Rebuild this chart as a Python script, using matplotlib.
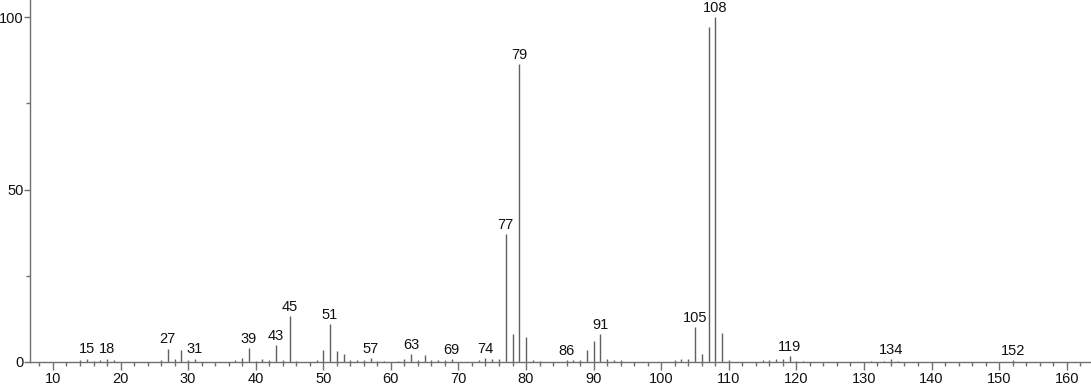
import numpy as np
import matplotlib.pyplot as plt
from matplotlib.ticker import MultipleLocator

plt.rcParams['font.family'] = ['Liberation Sans', 'DejaVu Sans']

# m/z values and relative intensities (%)
mz = [14, 15, 16, 17, 18, 19, 26, 27, 28, 29, 30, 31, 37, 38, 39, 40, 41, 42, 43, 44, 45, 46,
      49, 50, 51, 52, 53, 54, 55, 56, 57, 58, 59, 61, 62, 63, 64, 65, 66, 67, 68, 69,
      73, 74, 75, 76, 77, 78, 79, 80, 81, 82, 86, 87, 88, 89, 90, 91, 92, 93, 94,
      102, 103, 104, 105, 106, 107, 108, 109, 110, 115, 116, 117, 118, 119, 120, 121,
      131, 133, 134, 135, 152]
intensity = [0.6, 1.0, 0.4, 0.6, 1.0, 0.5, 0.6, 3.9, 1.0, 3.5, 0.5, 1.0, 0.5, 1.2, 4.1, 0.3, 1.0, 0.5, 4.9, 0.5, 13.2, 0.3,
             0.5, 3.6, 11.0, 3.1, 2.4, 0.5, 0.7, 0.5, 1.1, 0.3, 0.3, 0.3, 0.9, 2.3, 0.7, 2.1, 0.5, 0.5, 0.6, 0.8,
             0.5, 1.1, 0.8, 0.9, 37.1, 8.1, 86.4, 7.3, 0.5, 0.3, 0.7, 0.5, 0.6, 3.5, 6.2, 8.0, 1.0, 0.5, 0.5,
             0.7, 0.8, 0.9, 10.1, 2.4, 97.1, 100.0, 8.3, 0.5, 0.5, 0.5, 0.8, 0.8, 1.8, 0.4, 0.3,
             0.4, 0.4, 0.8, 0.4, 0.5]
labeled = [15, 18, 27, 31, 39, 43, 45, 51, 57, 63, 69, 74, 77, 79, 86, 91, 105, 108, 119, 134, 152]

fig = plt.figure(figsize=(10.91, 3.87), dpi=100)
ax = fig.add_axes([0.0275, 0.0646, 0.9725, 0.9354])

ax.vlines(mz, 0, intensity, colors='#606060', linewidth=1.0)
for m, h in zip(mz, intensity):
    if m in labeled:
        ax.annotate(str(m), (m, h), xytext=(0, 1.5), textcoords='offset points',
                    ha='center', va='bottom', fontsize=10.5, color='#111111')

ax.set_xlim(6.6, 163.6)
ax.set_ylim(0, 105)
ax.xaxis.set_major_locator(MultipleLocator(10))
ax.xaxis.set_minor_locator(MultipleLocator(2))
ax.yaxis.set_major_locator(MultipleLocator(50))
ax.yaxis.set_minor_locator(MultipleLocator(25))

for s in ['top', 'right']:
    ax.spines[s].set_visible(False)
for s in ['left', 'bottom']:
    ax.spines[s].set_color('#707070')
    ax.spines[s].set_linewidth(1.0)

ax.tick_params(axis='both', which='major', length=6, width=1, color='#707070',
               labelsize=10.5, labelcolor='#111111', pad=1.5)
ax.tick_params(axis='both', which='minor', length=3, width=1, color='#707070')
ax.tick_params(axis='y', which='major', length=4, pad=0.5)

fig.savefig('out.png', dpi=100)
